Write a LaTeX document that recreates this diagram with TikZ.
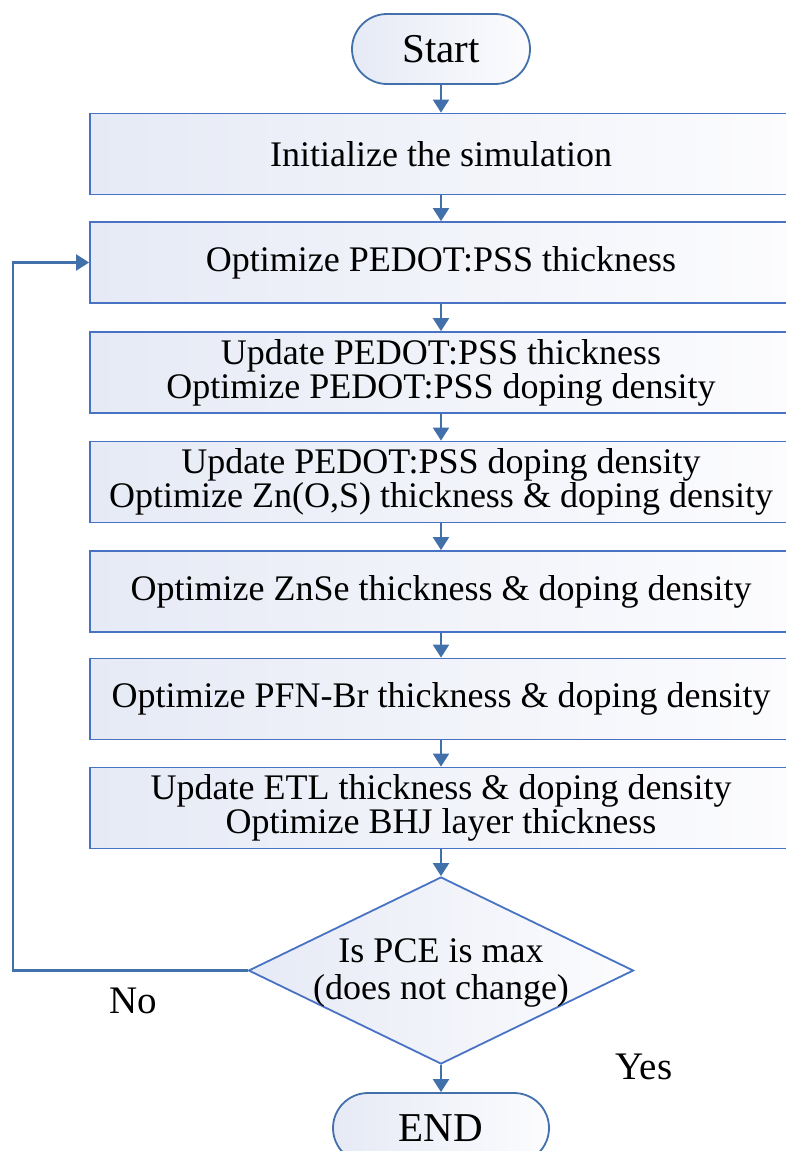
\documentclass[tikz,border=0pt]{standalone}
\usepackage{fontspec}
\setmainfont{Liberation Serif}
\usetikzlibrary{shapes.geometric,shapes.misc,arrows.meta}
\definecolor{boxline}{RGB}{72,114,196}
\definecolor{arrline}{RGB}{66,112,170}
\definecolor{fillL}{RGB}{230,234,245}
\definecolor{fillR}{RGB}{252,252,254}
\tikzset{
  procbox/.style={draw=boxline, line width=1.8pt, rectangle, left color=fillL, right color=fillR,
    minimum width=702pt, minimum height=81pt, inner sep=0pt, align=center,
    font=\fontsize{36}{34}\selectfont},
  termbox/.style={draw=arrline, line width=1.8pt, rounded rectangle, left color=fillL, right color=fillR,
    minimum height=70pt, inner sep=0pt, font=\fontsize{41}{41}\selectfont},
  decbox/.style={draw=boxline, line width=1.8pt, diamond, left color=fillL, right color=fillR,
    minimum width=385pt, minimum height=187pt, inner sep=0pt},
  plain/.style={inner sep=0pt, align=center, font=\fontsize{36}{37}\selectfont},
  lbl/.style={inner sep=0pt, font=\fontsize{39}{39}\selectfont},
  arr/.style={draw=arrline, line width=2.2pt, -{Triangle[length=13pt,width=16pt]}},
}
\begin{document}
\begin{tikzpicture}[x=1pt,y=-1pt]
\useasboundingbox (0,0) rectangle (786,1151);
\clip (0,0) rectangle (786,1151);
\node[termbox, minimum width=178pt] (start) at (441,49) {Start};
\node[procbox] (b1) at (441,154) {Initialize the simulation};
\node[procbox] (b2) at (441,262.5) {Optimize PEDOT:PSS thickness};
\node[procbox] (b3) at (441,372.5) {Update PEDOT:PSS thickness\\Optimize PEDOT:PSS doping density};
\node[procbox] (b4) at (441,482) {Update PEDOT:PSS doping density\\Optimize Zn(O,S) thickness \& doping density};
\node[procbox] (b5) at (441,591.5) {Optimize ZnSe thickness \& doping density};
\node[procbox] (b6) at (441,699) {Optimize PFN-Br thickness \& doping density};
\node[procbox] (b7) at (441,808) {Update ETL thickness \& doping density\\Optimize BHJ layer thickness};
\node[decbox] (dec) at (441,970.5) {};
\node[plain] (dectext) at (441,973) {Is PCE is max\\(does not change)};
\node[termbox, minimum width=216pt] (end) at (441,1128) {END};
\node[lbl] (no) at (133,1001) {No};
\node[lbl] (yes) at (644,1067) {Yes};
\coordinate (fb) at (13,970.5);
\draw[arr] (start.south) -- (b1.north);
\draw[arr] (b1.south) -- (b2.north);
\draw[arr] (b2.south) -- (b3.north);
\draw[arr] (b3.south) -- (b4.north);
\draw[arr] (b4.south) -- (b5.north);
\draw[arr] (b5.south) -- (b6.north);
\draw[arr] (b6.south) -- (b7.north);
\draw[arr] (b7.south) -- (dec.north);
\draw[arr] (dec.south) -- (end.north);
\draw[arr] (dec.west) -- (fb) |- (b2.west);
\end{tikzpicture}
\end{document}
